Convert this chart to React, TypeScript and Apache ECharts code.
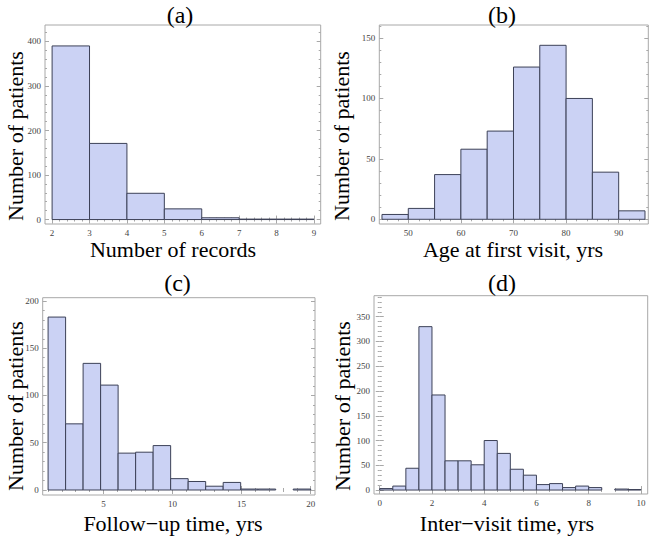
import React, { useEffect, useRef } from "react";
import * as echarts from "echarts";

// (a) Number of records
const aEdges = [2, 3, 4, 5, 6, 7, 8, 9];
const aCounts = [390, 171, 59, 24, 4, 1, 1];
const aXTicks = [2, 3, 4, 5, 6, 7, 8, 9];
const aYTicks = [0, 100, 200, 300, 400];

// (b) Age at first visit
const bEdges = [45, 50, 55, 60, 65, 70, 75, 80, 85, 90, 95];
const bCounts = [4, 9, 37, 58, 73, 126, 144, 100, 39, 7];
const bXTicks = [50, 60, 70, 80, 90];
const bYTicks = [0, 50, 100, 150];

// (c) Follow-up time: 15 bins from 1 to 20
const cEdges = [1, 2.2667, 3.5333, 4.8, 6.0667, 7.3333, 8.6, 9.8667, 11.1333, 12.4, 13.6667, 14.9333, 16.2, 17.4667, 18.7333, 20];
const cCounts = [183, 70, 134, 111, 39, 40, 47, 12, 9, 4, 8, 1, 1, 0, 1];
const cXTicks = [5, 10, 15, 20];
const cYTicks = [0, 50, 100, 150, 200];

// (d) Inter-visit time
const dEdges = [0, 0.5, 1, 1.5, 2, 2.5, 3, 3.5, 4, 4.5, 5, 5.5, 6, 6.5, 7, 7.5, 8, 8.5, 9, 9.5, 10];
const dCounts = [3, 8, 44, 330, 192, 59, 59, 51, 100, 74, 42, 30, 11, 13, 5, 8, 5, 0, 2, 1];
const dXTicks = [0, 2, 4, 6, 8, 10];
const dYTicks = [0, 50, 100, 150, 200, 250, 300, 350];

const FONT = "Liberation Serif";
const FRAME = "#a8a8a8";
const FILL = "#cbd2f4";
const EDGE = "#3c4157";

type Panel = {
  edges: number[];
  counts: number[];
  xTicks: number[];
  yTicks: number[];
  xMinorSub: number;
  yMinorSub: number;
  xRange: [number, number];
  yRange: [number, number];
  grid: { left: number; top: number; width: number; height: number };
  title: string;
  titlePos: [number, number];
  xLabel: string;
  xLabelPos: [number, number];
  yLabelPos: [number, number];
};

const panels: Panel[] = [
  {
    edges: aEdges, counts: aCounts, xTicks: aXTicks, yTicks: aYTicks,
    xMinorSub: 5, yMinorSub: 5,
    xRange: [1.81, 9.18], yRange: [-10, 437],
    grid: { left: 45, top: 25, width: 275.7, height: 199 },
    title: "(a)", titlePos: [180, 15],
    xLabel: "Number of records", xLabelPos: [173, 249],
    yLabelPos: [15, 136],
  },
  {
    edges: bEdges, counts: bCounts, xTicks: bXTicks, yTicks: bYTicks,
    xMinorSub: 5, yMinorSub: 5,
    xRange: [44.49, 95.63], yRange: [-3.9, 160.8],
    grid: { left: 379.3, top: 25, width: 269, height: 199 },
    title: "(b)", titlePos: [502, 15],
    xLabel: "Age at first visit, yrs", xLabelPos: [513, 249],
    yLabelPos: [341, 136],
  },
  {
    edges: cEdges, counts: cCounts, xTicks: cXTicks, yTicks: cYTicks,
    xMinorSub: 5, yMinorSub: 5,
    xRange: [0.61, 20.31], yRange: [-5.3, 203.5],
    grid: { left: 42.7, top: 297.7, width: 272.3, height: 197.3 },
    title: "(c)", titlePos: [177.5, 283],
    xLabel: "Follow\u2212up time, yrs", xLabelPos: [173, 523],
    yLabelPos: [15, 406],
  },
  {
    edges: dEdges, counts: dCounts, xTicks: dXTicks, yTicks: dYTicks,
    xMinorSub: 4, yMinorSub: 5,
    xRange: [-0.22, 10.26], yRange: [-8, 392.5],
    grid: { left: 374, top: 295.7, width: 273.7, height: 198.3 },
    title: "(d)", titlePos: [502, 283],
    xLabel: "Inter\u2212visit time, yrs", xLabelPos: [507, 523],
    yLabelPos: [342, 406],
  },
];

function minorTicks(major: number[], sub: number, lo: number, hi: number): number[] {
  const step = (major[1] - major[0]) / sub;
  const out: number[] = [];
  const start = Math.ceil((lo - major[0]) / step);
  for (let k = start; ; k++) {
    const v = major[0] + k * step;
    if (v > hi) break;
    if (v < lo) continue;
    const r = (v - major[0]) / (major[1] - major[0]);
    if (Math.abs(r - Math.round(r)) > 1e-6) out.push(+v.toFixed(6));
  }
  return out;
}

function buildOption() {
  const grids: any[] = [];
  const xAxes: any[] = [];
  const yAxes: any[] = [];
  const series: any[] = [];
  const graphics: any[] = [];

  panels.forEach((p, gi) => {
    grids.push({
      ...p.grid,
      show: true,
      borderColor: FRAME,
      borderWidth: 1,
      backgroundColor: "transparent",
      containLabel: false,
    });
    const xMinor = minorTicks(p.xTicks, p.xMinorSub, p.xRange[0], p.xRange[1]);
    const yMinor = minorTicks(p.yTicks, p.yMinorSub, p.yRange[0], p.yRange[1]);
    const base = {
      type: "value",
      gridIndex: gi,
      axisLine: { show: false },
      splitLine: { show: false },
    };
    const label = {
      show: true,
      fontFamily: FONT,
      fontSize: 9,
      lineHeight: 9,
      color: "#444",
    };
    (["bottom", "top"] as const).forEach((pos) => {
      xAxes.push({
        ...base,
        position: pos,
        min: p.xRange[0],
        max: p.xRange[1],
        axisTick: { show: true, inside: true, length: 4, customValues: p.xTicks, lineStyle: { color: FRAME } },
        axisLabel: pos === "bottom"
          ? { ...label, customValues: p.xTicks, margin: 4 }
          : { show: false },
      });
      xAxes.push({
        ...base,
        position: pos,
        min: p.xRange[0],
        max: p.xRange[1],
        axisTick: { show: true, inside: true, length: 2, customValues: xMinor, lineStyle: { color: FRAME } },
        axisLabel: { show: false },
      });
    });
    (["left", "right"] as const).forEach((pos) => {
      yAxes.push({
        ...base,
        position: pos,
        min: p.yRange[0],
        max: p.yRange[1],
        axisTick: { show: true, inside: true, length: 4, customValues: p.yTicks, lineStyle: { color: FRAME } },
        axisLabel: pos === "left"
          ? { ...label, customValues: p.yTicks, margin: 4 }
          : { show: false },
      });
      yAxes.push({
        ...base,
        position: pos,
        min: p.yRange[0],
        max: p.yRange[1],
        axisTick: { show: true, inside: true, length: 2, customValues: yMinor, lineStyle: { color: FRAME } },
        axisLabel: { show: false },
      });
    });

    const data = p.counts.map((c, i) => [p.edges[i], p.edges[i + 1], c]);
    series.push({
      type: "custom",
      xAxisIndex: gi * 4,
      yAxisIndex: gi * 4,
      encode: { x: [0, 1], y: 2 },
      data,
      clip: true,
      renderItem: (params: any, api: any) => {
        const v = api.value(2);
        if (!v) return null;
        const p0 = api.coord([api.value(0), 0]);
        const p1 = api.coord([api.value(1), v]);
        return {
          type: "rect",
          shape: { x: p0[0], y: p1[1], width: p1[0] - p0[0], height: p0[1] - p1[1] },
          style: { fill: FILL, stroke: EDGE, lineWidth: 1 },
        };
      },
    });

    graphics.push({
      type: "text",
      x: p.titlePos[0],
      y: p.titlePos[1],
      style: { text: p.title, fontFamily: FONT, fontSize: 24, lineHeight: 24, fill: "#000", align: "center", verticalAlign: "middle" },
    });
    graphics.push({
      type: "text",
      x: p.xLabelPos[0],
      y: p.xLabelPos[1],
      style: { text: p.xLabel, fontFamily: FONT, fontSize: 22, lineHeight: 20, fill: "#000", align: "center", verticalAlign: "middle" },
    });
    graphics.push({
      type: "text",
      x: p.yLabelPos[0],
      y: p.yLabelPos[1],
      rotation: Math.PI / 2,
      style: { text: "Number of patients", fontFamily: FONT, fontSize: 22, lineHeight: 20, fill: "#000", align: "center", verticalAlign: "middle" },
    });
  });

  return {
    animation: false,
    backgroundColor: "#fff",
    grid: grids,
    xAxis: xAxes,
    yAxis: yAxes,
    series,
    graphic: graphics,
  };
}

export default function App() {
  const ref = useRef<HTMLDivElement>(null);
  useEffect(() => {
    if (!ref.current) return;
    const chart = echarts.init(ref.current, undefined, { renderer: "svg" });
    chart.setOption(buildOption() as any);
    return () => chart.dispose();
  }, []);
  return (
    <div
      ref={ref}
      style={{ position: "fixed", left: 0, top: 0, width: 653, height: 546 }}
    />
  );
}
